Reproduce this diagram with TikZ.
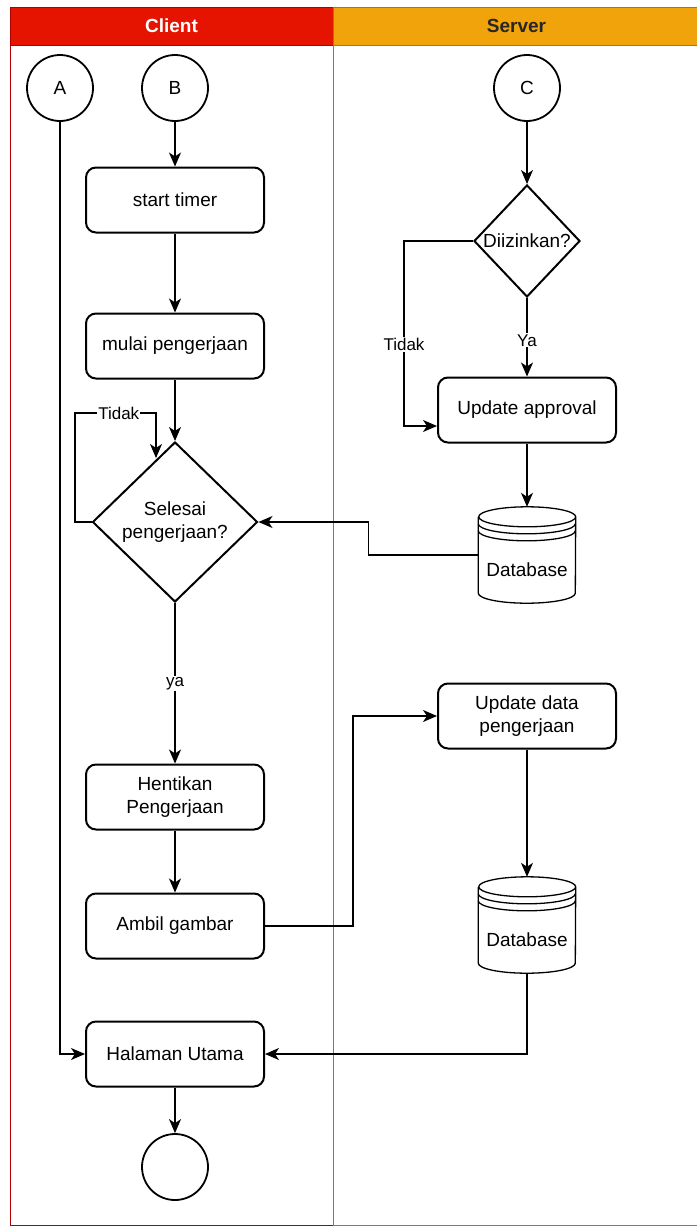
\documentclass[tikz,border=0pt]{standalone}
\usepackage{fontspec}
\setmainfont{Liberation Sans}
\usetikzlibrary{shapes.geometric,arrows.meta}
\definecolor{clientred}{HTML}{E51400}
\definecolor{clientline}{HTML}{B20000}
\definecolor{serverorange}{HTML}{F0A30A}
\definecolor{serverline}{HTML}{BD7000}
\tikzset{
  lanehead/.style={rectangle, draw, line width=0.8pt, minimum height=38pt, inner sep=0pt, font=\fontsize{19}{23}\selectfont\bfseries},
  terminal/.style={circle, draw, line width=1.8pt, minimum size=66pt, inner sep=0pt},
  process/.style={rectangle, draw, rounded corners=10pt, line width=2pt, minimum width=178pt, minimum height=65pt, align=center},
  decision/.style={diamond, draw, line width=2pt, inner sep=0pt},
  datastore/.style={rectangle, minimum width=97pt, minimum height=96pt, inner sep=0pt},
  flow/.style={line width=1.1pt, -{Stealth[length=14pt,width=12pt,inset=4pt]}},
  lbl/.style={fill=white, inner sep=1pt, font=\fontsize{17}{20}\selectfont}
}

\begin{document}
\begin{tikzpicture}[x=1pt, y=-1pt, font=\fontsize{19}{23}\selectfont]
  \useasboundingbox (0,0) rectangle (696,1226);
  % swimlanes
  \draw[clientline, line width=0.8pt] (10,7) rectangle (333,1225);
  \draw[serverline, line width=0.8pt] (333,7) rectangle (700,1225);
  \node[lanehead, fill=clientred, draw=clientline, text=white, minimum width=323pt] (hclient) at (171.5,26) {Client};
  \node[lanehead, fill=serverorange, draw=serverline, text=black!85, minimum width=367pt] (hserver) at (516.5,26) {Server};

  % client lane
  \node[terminal] (A) at (60,88) {A};
  \node[terminal] (B) at (175,88) {B};
  \node[process] (timer) at (175,200) {start timer};
  \node[process] (mulai) at (175,346) {mulai pengerjaan};
  \node[decision, minimum width=165pt, minimum height=160pt,
        label={[align=center]center:Selesai\\pengerjaan?}] (selesai) at (175,522) {};
  \node[process] (henti) at (175,797) {Hentikan\\Pengerjaan};
  \node[process] (ambil) at (175,926) {Ambil gambar};
  \node[process] (utama) at (175,1054) {Halaman Utama};
  \node[terminal] (end) at (175,1167) {};
  \coordinate (loopin) at (156,458);

  % server lane
  \node[terminal] (C) at (527,88) {C};
  \node[decision, minimum width=106pt, minimum height=112pt,
        label=center:Diizinkan?] (izin) at (527,241) {};
  \node[process] (approval) at (527,410) {Update approval};
  \node[datastore, label={[yshift=-15pt]center:Database}] (db1) at (527,555) {};
  \node[process] (updata) at (527,716) {Update data\\pengerjaan};
  \node[datastore, label={[yshift=-15pt]center:Database}] (db2) at (527,925) {};

  % database cylinders
  \foreach \db in {db1,db2} {
    \draw[line width=1.3pt]
      ([yshift=-10pt]\db.north west) -- ([yshift=10pt]\db.south west)
      arc[start angle=180, end angle=360, x radius=48.5pt, y radius=10pt]
      -- ([yshift=-10pt]\db.north east)
      arc[start angle=0, end angle=180, x radius=48.5pt, y radius=10pt]
      arc[start angle=180, end angle=360, x radius=48.5pt, y radius=10pt];
    \draw[line width=1.3pt] ([yshift=-17pt]\db.north west)
      arc[start angle=180, end angle=360, x radius=48.5pt, y radius=10pt];
    \draw[line width=1.3pt] ([yshift=-24pt]\db.north west)
      arc[start angle=180, end angle=360, x radius=48.5pt, y radius=10pt];
  }

  % connectors
  \draw[flow] (A) |- (utama);
  \draw[flow] (B) -- (timer);
  \draw[flow] (timer) -- (mulai);
  \draw[flow] (mulai) -- (selesai);
  \draw[flow] (selesai.west) -| (75,413) -| node[lbl, pos=0.27]{Tidak} (loopin);
  \draw[flow] (selesai) -- node[lbl]{ya} (henti);
  \draw[flow] (henti) -- (ambil);
  \draw[flow] (ambil.east) -- ++(88,0) |- (updata.west);
  \draw[flow] (utama) -- (end);
  \draw[flow] (C) -- (izin);
  \draw[flow] (izin) -- node[lbl, pos=0.54]{Ya} (approval);
  \draw[flow] (izin.west) -- ++(-69,0) |- node[lbl, pos=0.28]{Tidak} ([yshift=-16pt]approval.west);
  \draw[flow] (approval) -- (db1);
  \draw[flow] (db1.west) -- ++(-110,0) |- (selesai.east);
  \draw[flow] (updata) -- (db2);
  \draw[flow] (db2) |- (utama);
\end{tikzpicture}
\end{document}
